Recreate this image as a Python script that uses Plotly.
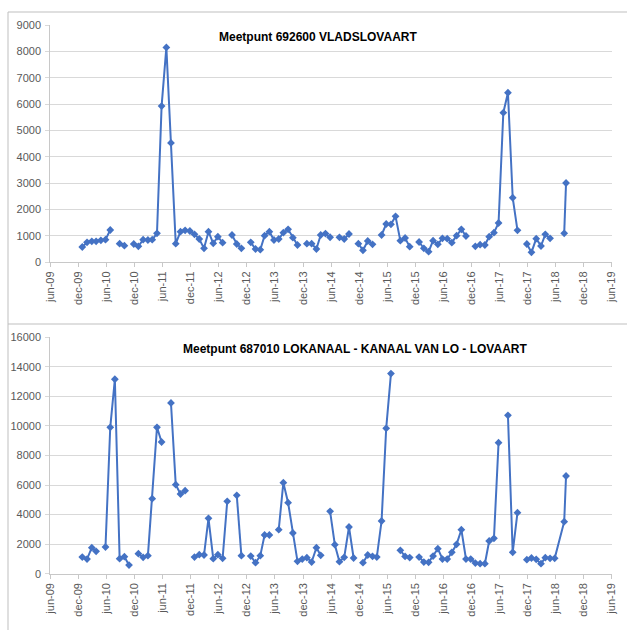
import plotly.graph_objects as go

# ---------------- data ----------------
dates = [
    "2009-12-26",
    "2010-01-26", "2010-02-26", "2010-03-26", "2010-04-26", "2010-05-26", "2010-06-26",
    "2010-07-26", "2010-08-26", "2010-09-26", "2010-10-26", "2010-11-26", "2010-12-26",
    "2011-01-26", "2011-02-26", "2011-03-26", "2011-04-26", "2011-05-26", "2011-06-26",
    "2011-07-26", "2011-08-26", "2011-09-26", "2011-10-26", "2011-11-26", "2011-12-26",
    "2012-01-26", "2012-02-26", "2012-03-26", "2012-04-26", "2012-05-26", "2012-06-26",
    "2012-07-26", "2012-08-26", "2012-09-26", "2012-10-26", "2012-11-26", "2012-12-26",
    "2013-01-26", "2013-02-26", "2013-03-26", "2013-04-26", "2013-05-26", "2013-06-26",
    "2013-07-26", "2013-08-26", "2013-09-26", "2013-10-26", "2013-11-26", "2013-12-26",
    "2014-01-26", "2014-02-26", "2014-03-26", "2014-04-26", "2014-05-26", "2014-06-26",
    "2014-07-26", "2014-08-26", "2014-09-26", "2014-10-26", "2014-11-26", "2014-12-26",
    "2015-01-26", "2015-02-26", "2015-03-26", "2015-04-26", "2015-05-26", "2015-06-26",
    "2015-07-26", "2015-08-26", "2015-09-26", "2015-10-26", "2015-11-26", "2015-12-26",
    "2016-01-26", "2016-02-26", "2016-03-26", "2016-04-26", "2016-05-26", "2016-06-26",
    "2016-07-26", "2016-08-26", "2016-09-26", "2016-10-26", "2016-11-26", "2016-12-26",
    "2017-01-26", "2017-02-26", "2017-03-26", "2017-04-26", "2017-05-26", "2017-06-26",
    "2017-07-26", "2017-08-26", "2017-09-26", "2017-10-26", "2017-11-26", "2017-12-26",
    "2018-01-26", "2018-02-26", "2018-03-26", "2018-04-26", "2018-05-26",
    "2018-07-27", "2018-08-08",
]

vladslovaart = [
    570,
    747, 785, 785, 823, 848, 1215, None, 696, 620, None, 684, 595,
    848, 835, 848, 1089, 5920, 8150, 4520, 696, 1152, 1203, 1177, 1051,
    873, 519, 1152, 709, 962, 734, None, 1025, 684, 519, None, 747,
    494, 468, 1000, 1152, 835, 873, 1114, 1240, 924, 646, None, 696,
    696, 494, 1025, 1080, 940, None, 937, 873, 1063, None, 696, 443,
    797, 671, None, 1025, 1443, 1430, 1734, 810, 911, 582, None, 759,
    519, 392, 810, 671, 899, 886, 734, 1000, 1240, 987, None, 595,
    658, 646, 962, 1114, 1481, 5670, 6430, 2440, 1203, None, 684, 367,
    886, 608, 1051, 899, None,
    1090, 3000,
]

lovaart = [
    1128,
    993, 1760, 1512, None, 1806, 9908, 13160, 1016, 1151, 587, None, 1354,
    1106, 1219, 5078, 9908, 8915, None, 11556, 6026, 5394, 5620, None, 1128,
    1286, 1264, 3747, 1016, 1286, 1038, 4898, None, 5304, 1219, None, 1196,
    745, 1219, 2618, 2618, None, 2979, 6162, 4808, 2754, 835, 993, 1083,
    790, 1760, 1241, None, 4221, 1964, 812, 1106, 3160, 1061, None, 745,
    1264, 1174, 1128, 3566, 9840, 13542, None, 1580, 1170, 1090, None, 1128,
    790, 767, 1196, 1693, 993, 993, 1444, 1986, 2979, 993, 993, 722,
    677, 677, 2212, 2392, 8870, None, 10721, 1444, 4130, None, 948, 1061,
    970, 677, 1083, 1038, 1038,
    3521, 6613,
]

tick_dates = [
    "2009-06-01", "2009-12-01", "2010-06-01", "2010-12-01", "2011-06-01", "2011-12-01",
    "2012-06-01", "2012-12-01", "2013-06-01", "2013-12-01", "2014-06-01", "2014-12-01",
    "2015-06-01", "2015-12-01", "2016-06-01", "2016-12-01", "2017-06-01", "2017-12-01",
    "2018-06-01", "2018-12-01", "2019-06-01",
]
tick_labels = [
    "jun-09", "dec-09", "jun-10", "dec-10", "jun-11", "dec-11", "jun-12", "dec-12",
    "jun-13", "dec-13", "jun-14", "dec-14", "jun-15", "dec-15", "jun-16", "dec-16",
    "jun-17", "dec-17", "jun-18", "dec-18", "jun-19",
]

title_top = "Meetpunt 692600 VLADSLOVAART"
title_bottom = "Meetpunt 687010 LOKANAAL - KANAAL VAN LO - LOVAART"

# ---------------- figure ----------------
W, H = 627, 630
BLUE = "#4472C4"
GRID = "#D9D9D9"
AXIS = "#C8C8C8"
TXT = "#595959"
FONT = "Liberation Sans, Arial, sans-serif"

fig = go.Figure()

fig.add_trace(go.Scatter(
    x=dates, y=vladslovaart, mode="lines+markers",
    line=dict(color=BLUE, width=2),
    marker=dict(symbol="diamond", size=6, color=BLUE),
    connectgaps=False, xaxis="x", yaxis="y", showlegend=False,
))
fig.add_trace(go.Scatter(
    x=dates, y=lovaart, mode="lines+markers",
    line=dict(color=BLUE, width=2),
    marker=dict(symbol="diamond", size=6, color=BLUE),
    connectgaps=False, xaxis="x2", yaxis="y2", showlegend=False,
))

xdom = [50.3 / W, 611.7 / W]
ydom_top = [(H - 262) / H, (H - 25) / H]
ydom_bot = [(H - 573.7) / H, (H - 337.3) / H]

xaxis_common = dict(
    type="date", range=["2009-06-01", "2019-06-01"], domain=xdom,
    tickmode="array", tickvals=tick_dates, ticktext=tick_labels,
    tickangle=-90, ticks="outside", ticklen=4, tickcolor=AXIS,
    showline=True, linecolor=AXIS, linewidth=1, showgrid=False,
    tickfont=dict(family=FONT, size=11, color=TXT), automargin=False,
    zeroline=False,
)
yaxis_common = dict(
    showline=True, linecolor=AXIS, linewidth=1, showgrid=True, gridcolor=GRID,
    gridwidth=1, zeroline=False, ticks="outside", ticklen=4, tickcolor=GRID,
    tickformat="d", tickfont=dict(family=FONT, size=11, color=TXT),
    automargin=False, ticklabelstandoff=2,
)

fig.update_layout(
    width=W, height=H, margin=dict(l=0, r=0, t=0, b=0),
    paper_bgcolor="white", plot_bgcolor="white",
    xaxis=dict(**xaxis_common, anchor="y"),
    xaxis2=dict(**xaxis_common, anchor="y2"),
    yaxis=dict(**yaxis_common, domain=ydom_top, range=[0, 9000], dtick=1000, anchor="x"),
    yaxis2=dict(**yaxis_common, domain=ydom_bot, range=[0, 16000], dtick=2000, anchor="x2"),
)

fig.add_annotation(
    text="<b>" + title_top + "</b>", xref="paper", yref="paper",
    x=317.8 / W, y=1 - 36.7 / H, showarrow=False, xanchor="center", yanchor="middle",
    font=dict(family=FONT, size=12, color="black"),
)
fig.add_annotation(
    text="<b>" + title_bottom + "</b>", xref="paper", yref="paper",
    x=354.7 / W, y=1 - 349.3 / H, showarrow=False, xanchor="center", yanchor="middle",
    font=dict(family=FONT, size=12, color="black"),
)

# chart-area borders
BORDER = "#BFBFBF"
for y0 in (12, 324):
    fig.add_shape(type="line", xref="paper", yref="paper",
                  x0=8 / W, x1=1, y0=1 - y0 / H, y1=1 - y0 / H,
                  line=dict(color=BORDER, width=1))
fig.add_shape(type="line", xref="paper", yref="paper",
              x0=8 / W, x1=8 / W, y0=0, y1=1 - 12 / H,
              line=dict(color=BORDER, width=1))

fig.write_html(
    "out.html",
    config={"displayModeBar": False, "staticPlot": True},
    post_script="document.body.style.margin='0';document.body.style.overflow='hidden';",
)
